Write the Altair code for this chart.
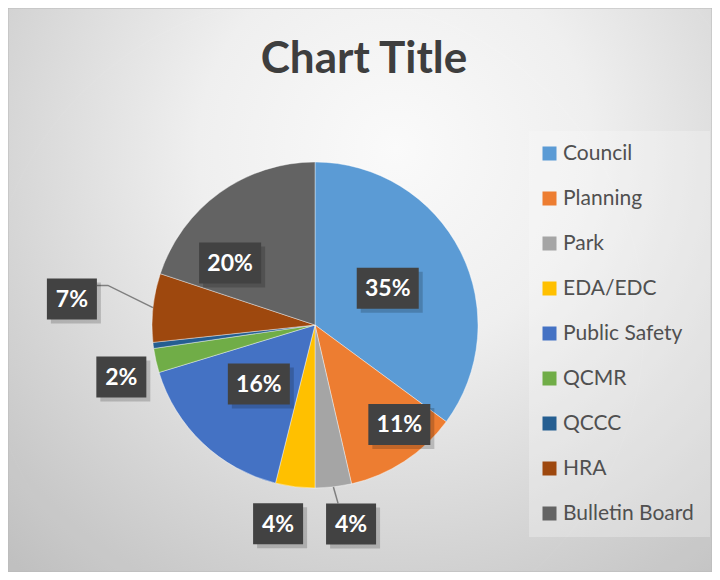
import math
import altair as alt
import pandas as pd

# ---- data ----
categories = ["Council", "Planning", "Park", "EDA/EDC", "Public Safety",
              "QCMR", "QCCC", "HRA", "Bulletin Board"]
values = [35.1, 11.3, 3.6, 3.9, 16.4, 2.4, 0.6, 6.8, 19.9]
labels = ["35%", "11%", "4%", "4%", "16%", "2%", "", "7%", "20%"]
colors = ["#5B9BD5", "#ED7D31", "#A5A5A5", "#FFC000", "#4472C4",
          "#70AD47", "#255E91", "#9E480E", "#636363"]
title_text = "Chart Title"

# ---- layout ----
W, H = 704, 564
CX, CY, R = 307, 317, 163
label_radius = [0.50, 0.80, 1.24, 1.24, 0.50, 1.23, 0, 1.50, 0.645]
label_shift = [0, -7, -3.8, 3.5, 0, -2.4, 0, 0, -18]
FONT = "Lato"

pie_df = pd.DataFrame({"cat": categories, "value": values, "idx": list(range(len(values)))})

total = sum(values)
rows, leaders = [], []
cum = 0.0
for i, (v, lab) in enumerate(zip(values, labels)):
    mid = (cum + v / 2) / total * 360.0
    cum += v
    if not lab:
        continue
    a = math.radians(mid + label_shift[i])
    rr = label_radius[i] * R
    lx = CX + rr * math.sin(a)
    ly = CY - rr * math.cos(a)
    bw = 50 if len(lab) == 2 else 62
    bh = 41
    rows.append({"label": lab, "lx": lx, "ly": ly,
                 "x1": lx - bw / 2, "x2": lx + bw / 2,
                 "y1": ly - bh / 2, "y2": ly + bh / 2})
    if label_radius[i] >= 1.45 or (label_radius[i] > 1 and abs(label_shift[i] + 3.8) < 0.01):
        m = math.radians(mid)
        ex, ey = CX + R * math.sin(m), CY - R * math.cos(m)
        if lx < CX:
            pts = [(ex, ey), (lx + bw / 2 + 11, ly - bh / 2 + 7), (lx + bw / 2, ly - bh / 2 + 7)]
        else:
            pts = [(ex, ey), (lx - bw / 2 + 12, ly - bh / 2)]
        for k, (px, py) in enumerate(pts):
            leaders.append({"grp": lab + str(i), "k": k, "px": px, "py": py})

lab_df = pd.DataFrame(rows)
shadow_df = lab_df.copy()
for c in ["x1", "x2"]:
    shadow_df[c] = shadow_df[c] + 4
for c in ["y1", "y2"]:
    shadow_df[c] = shadow_df[c] + 4
lead_df = pd.DataFrame(leaders)
one = pd.DataFrame({"a": [0]})

bg = alt.Chart(one).mark_rect(
    fill=alt.Gradient(gradient="radial",
                      stops=[alt.GradientStop(color="#ffffff", offset=0),
                             alt.GradientStop(color="#f4f4f4", offset=0.35),
                             alt.GradientStop(color="#c4c4c4", offset=1)],
                      x1=0.55, y1=0.3, r1=0, x2=0.55, y2=0.3, r2=0.8),
    stroke="#bdbdbd", strokeWidth=1
).encode(x=alt.value(0), x2=alt.value(W), y=alt.value(0), y2=alt.value(H))

legend_bg = alt.Chart(one).mark_rect(fill="#ffffff", opacity=0.3).encode(
    x=alt.value(521), x2=alt.value(702), y=alt.value(123), y2=alt.value(529))

title = alt.Chart(one).mark_text(
    text=title_text, font=FONT, fontWeight="bold", fontSize=44,
    color="#404040", align="center", baseline="alphabetic"
).encode(x=alt.value(356), y=alt.value(65))

halo_df = pd.DataFrame({"r": [R + k for k in range(1, 10)]})
halo = alt.Chart(halo_df).mark_arc(theta=0, theta2=2 * math.pi, fill="#000000", opacity=0.018).encode(
    x=alt.value(CX), y=alt.value(CY), radius=alt.Radius("r:Q", scale=None))

pie = alt.Chart(pie_df).mark_arc(radius=R, stroke="#ffffff", strokeWidth=0.4).encode(
    x=alt.value(CX), y=alt.value(CY),
    theta=alt.Theta("value:Q", stack=True),
    order=alt.Order("idx:Q"),
    color=alt.Color("cat:N",
                    scale=alt.Scale(domain=categories, range=colors),
                    legend=alt.Legend(title=None, orient="none", legendX=519, legendY=123,
                                      padding=12, symbolType="square", symbolSize=196,
                                      symbolStrokeWidth=0, labelFont=FONT, labelFontSize=21,
                                      labelColor="#505050", labelOffset=3, rowPadding=23,
                                      labelLimit=200)))

leader = alt.Chart(lead_df).mark_line(color="#7f7f7f", strokeWidth=1.5).encode(
    x=alt.X("px:Q", scale=None), y=alt.Y("py:Q", scale=None),
    detail="grp:N", order="k:Q")

shadow = alt.Chart(shadow_df).mark_rect(fill="#000000", opacity=0.18).encode(
    x=alt.X("x1:Q", scale=None), x2="x2:Q", y=alt.Y("y1:Q", scale=None), y2="y2:Q")

boxes = alt.Chart(lab_df).mark_rect(fill="#424242").encode(
    x=alt.X("x1:Q", scale=None), x2="x2:Q", y=alt.Y("y1:Q", scale=None), y2="y2:Q")

texts = alt.Chart(lab_df).mark_text(font=FONT, fontWeight="bold", fontSize=23, color="#ffffff",
                                    align="center", baseline="middle", dy=1).encode(
    x=alt.X("lx:Q", scale=None), y=alt.Y("ly:Q", scale=None), text="label:N")

chart = alt.layer(bg, legend_bg, title, halo, pie, leader, shadow, boxes, texts).properties(
    width=W, height=H, padding=0, autosize=alt.AutoSizeParams(type="none")
).configure_view(strokeWidth=0)

chart.save("out.html", embed_options={"renderer": "svg", "actions": False})
